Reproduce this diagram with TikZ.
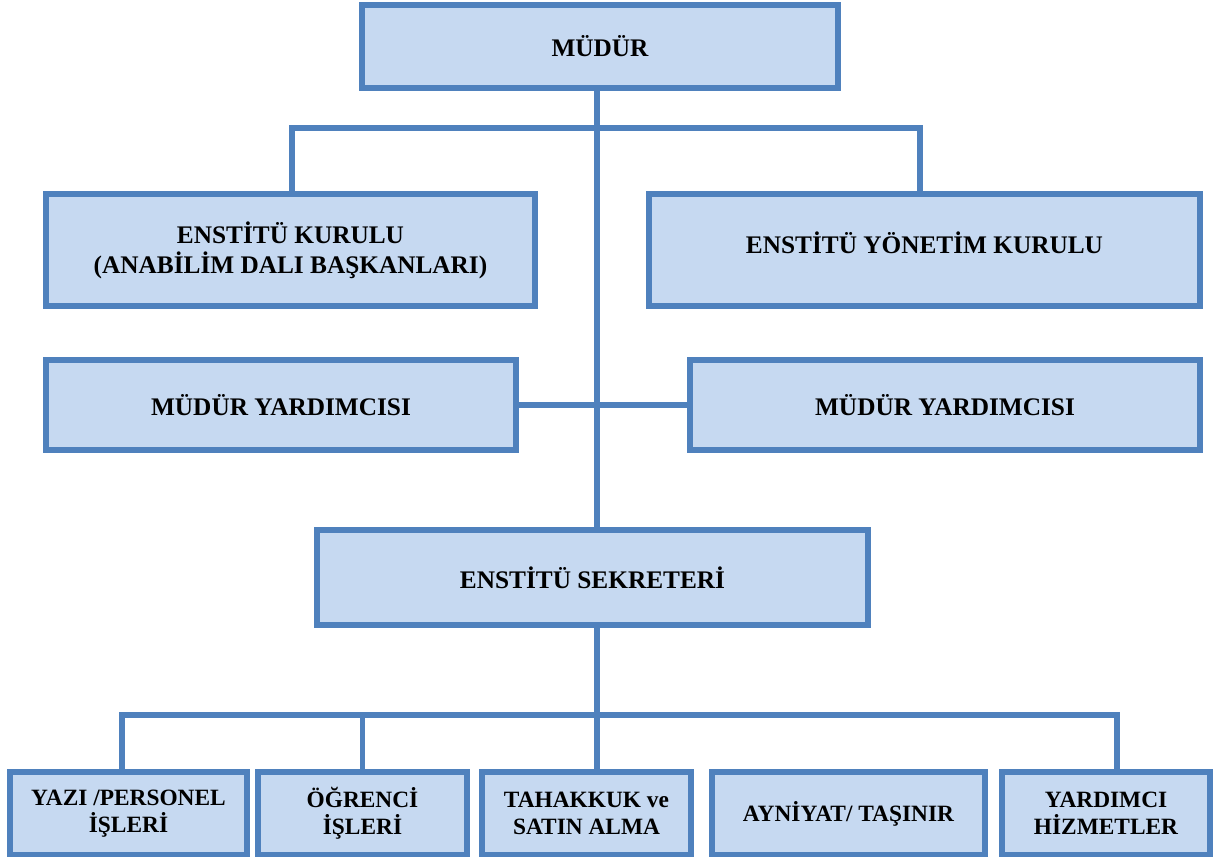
\documentclass[tikz,border=0pt]{standalone}
\usepackage{fontspec}
\setmainfont{Liberation Serif}
\usepackage{tikz}
\usetikzlibrary{positioning,calc}

\definecolor{kenar}{HTML}{4F81BD}
\definecolor{dolgu}{HTML}{C6D9F1}

\tikzset{
	kutu/.style={draw=kenar, fill=dolgu, line width=3pt, inner sep=0pt, align=center,
		font=\bfseries\fontsize{14.4}{17}\selectfont},
	altkutu/.style={kutu, minimum height=1.66cm, font=\bfseries\fontsize{13.3}{15.6}\selectfont},
	hat/.style={draw=kenar, line width=2.9pt}
}

\begin{document}
\begin{tikzpicture}[x=0.02cm, y=-0.02cm]
		\useasboundingbox (0,0) rectangle (1213,857);

		% Draw the boxes
		\node[kutu, minimum width=9.52cm, minimum height=1.66cm] (mudur) at (600,46.5) {MÜDÜR};
		\node[kutu, minimum width=9.78cm, minimum height=2.24cm] (kurul) at (290.5,250)
			{ENSTİTÜ KURULU\\(ANABİLİM DALI BAŞKANLARI)};
		\node[kutu, minimum width=11.02cm, minimum height=2.24cm] (yonetim) at (924.5,250)
			{ENSTİTÜ YÖNETİM KURULU\rule[-0.3cm]{0pt}{0pt}};
		\node[kutu, minimum width=9.4cm, minimum height=1.8cm] (yrd1) at (281,405) {MÜDÜR YARDIMCISI};
		\node[kutu, minimum width=10.2cm, minimum height=1.8cm] (yrd2) at (945,405) {MÜDÜR YARDIMCISI};
		\node[kutu, minimum width=11.02cm, minimum height=1.9cm] (sekreter) at (592.5,577.5)
			{ENSTİTÜ SEKRETERİ};

		\node[altkutu, minimum width=4.74cm] (b1) at (128.5,813.5) {YAZI /PERSONEL\\İŞLERİ};
		\node[altkutu, minimum width=4.18cm] (b2) at (362.5,813.5) {ÖĞRENCİ\\İŞLERİ};
		\node[altkutu, minimum width=4.18cm] (b3) at (586.5,813.5) {TAHAKKUK ve\\SATIN ALMA};
		\node[altkutu, minimum width=5.46cm] (b4) at (848.5,813.5) {AYNİYAT/ TAŞINIR};
		\node[altkutu, minimum width=4.16cm] (b5) at (1106,813.5) {YARDIMCI\\HİZMETLER};

		% Points on the trunk
		\coordinate (ust) at (597,128);
		\coordinate (alt) at (597,715);

		% Connect the boxes
		\draw[hat] (mudur.south -| ust) -- (sekreter.north -| ust);
		\draw[hat] ($(kurul.north)+(1.5,0)$) |- (ust) -| ($(yonetim.north)+(-4.5,0)$);
		\draw[hat] (yrd1.east) -- (yrd2.west);
		\draw[hat] (sekreter.south -| alt) -- (b3.north -| alt);
		\draw[hat] ($(b1.north)+(-6.5,0)$) |- (alt) -| ($(b5.north)+(11,0)$);
		\draw[hat] (b2.north) -- (b2.north |- alt);
		\draw[hat] ($(b4.north)+(-30.5,0)$) -- ($(b4.north)+(-30.5,0)$ |- alt);
	\end{tikzpicture}
\end{document}
